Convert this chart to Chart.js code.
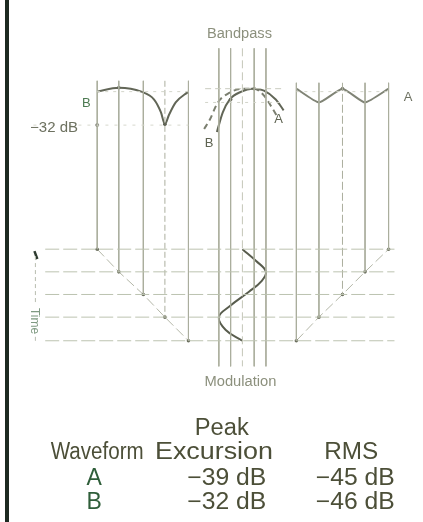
<!DOCTYPE html>
<html>
<head>
<meta charset="utf-8">
<script src="https://cdn.jsdelivr.net/npm/chart.js@4"></script>
<style>
  html, body { margin: 0; padding: 0; background: #fff; }
  #wrap { position: relative; width: 423px; height: 522px; overflow: hidden; }
  #bar { position: absolute; left: 5px; top: 0; width: 4px; height: 522px; background: #1d2a21; }
  canvas { position: absolute; left: 0; top: 0; }
</style>
</head>
<body>
<div id="wrap">
  <canvas id="chart-diagram" width="423" height="522"></canvas>
  <div id="bar"></div>
</div>
<script>
// grid positions (diagram units)
const timeRows = [249, 272, 295, 318, 342];
const leftFreqs = [95, 117, 142, 164, 188];
const midFreqs = [219, 231, 243, 255, 267];
const rightFreqs = [298, 321, 345, 368, 392];

// spectrum of waveform B (left panel)
const specBx = [95, 117, 140, 153, 160, 164, 168, 175, 188];
const specBy = [89, 85, 89, 97, 110, 122, 113, 100, 89];
// spectrum of waveform A (right panel)
const specAy = [86, 100, 86, 100, 86];
// bandpass responses
const bandBx = [217, 223, 230, 242, 253, 265, 277, 285];
const bandBy = [130, 110, 97, 89, 86, 88, 97, 108];
const bandAx = [204, 210, 218, 230, 243, 255, 265, 273, 279];
const bandAy = [127, 117, 100, 90, 86, 86, 93, 105, 115];
// modulation over time
const modX = [243, 257, 267, 262, 250, 230, 219, 226, 243];
const modY = [249, 261, 272, 282, 292, 307, 318, 331, 342];

// table
const tableWaveforms = ['A', 'B'];
const peakExcursion = [-39, -32];
const rmsLevel = [-45, -46];

const gridColor = '#abae9e';
const rowColor = '#bcc3b0';
const curveColor = '#626657';

function pts(xs, ys) { return xs.map((x, i) => ({ x, y: ys[i] })); }

function seg(x1, y1, x2, y2, color, width, dash) {
  return {
    data: [{ x: x1, y: y1 }, { x: x2, y: y2 }],
    showLine: true, borderColor: color, borderWidth: width || 1,
    borderDash: dash || [], pointRadius: 0, clip: false
  };
}

const datasets = [];

// time rows
timeRows.forEach(y => datasets.push(seg(42, y, 398, y, rowColor, 1, [14, 4])));
// level guides
datasets.push(seg(95, 89, 188, 89, '#d3d5ca', 1, [3, 5]));
datasets.push(seg(205, 86, 285, 86, '#c9ccbf', 1, [6, 4]));
datasets.push(seg(205, 100, 285, 100, '#d3d5ca', 1, [3, 5]));
datasets.push(seg(298, 89, 392, 89, '#d3d5ca', 1, [3, 5]));
datasets.push(seg(30, 123, 188, 123, '#d6d8cd', 1, [3, 6]));

// verticals
leftFreqs.forEach((x, i) => datasets.push(seg(x, 78, x, timeRows[i], gridColor, 1, i === 3 ? [6, 3] : [])));
midFreqs.forEach((x, i) => datasets.push(seg(x, 45, x, 368, i === 2 ? '#c4c6b8' : gridColor, 1, i === 2 ? [8, 4] : [])));
rightFreqs.forEach((x, i) => datasets.push(seg(x, 80, x, timeRows[4 - i], gridColor, 1, i === 2 ? [8, 3] : [])));

// diagonals (frequency -> time)
datasets.push({
  data: pts(leftFreqs, timeRows), showLine: true, borderColor: '#b4b7a8', borderWidth: 1,
  borderDash: [10, 4], pointRadius: 1.8, pointBackgroundColor: '#6c705f', pointBorderWidth: 0
});
datasets.push({
  data: pts(rightFreqs, timeRows.slice().reverse()), showLine: true, borderColor: '#b4b7a8', borderWidth: 1,
  borderDash: [10, 4], pointRadius: 1.8, pointBackgroundColor: '#6c705f', pointBorderWidth: 0
});

// time axis
datasets.push(seg(32, 256, 32, 303, '#b8bcaf', 1, [4, 3]));
datasets.push(seg(32, 338, 32, 345, '#b8bcaf', 1, [4, 3]));
datasets.push(seg(31, 251, 34, 259, '#2d3a2f', 2.5));

// spectra and responses
datasets.push({
  data: pts(specBx, specBy), showLine: true, borderColor: curveColor, borderWidth: 2,
  cubicInterpolationMode: 'monotone', pointRadius: 0
});
datasets.push({
  data: pts(rightFreqs, specAy), showLine: true, borderColor: '#808476', borderWidth: 2,
  tension: 0.15, pointRadius: 0
});
datasets.push({
  data: pts(bandBx, bandBy), showLine: true, borderColor: curveColor, borderWidth: 2,
  cubicInterpolationMode: 'monotone', pointRadius: 0
});
datasets.push({
  data: pts(bandAx, bandAy), showLine: true, borderColor: '#7b7f70', borderWidth: 2,
  borderDash: [6, 4], cubicInterpolationMode: 'monotone', pointRadius: 0
});
datasets.push({
  data: pts(modX, modY), showLine: true, borderColor: '#585c4d', borderWidth: 2,
  tension: 0.4, pointRadius: 0
});
// dots on spectrum lines
datasets.push({
  data: [{ x: 164, y: 122 }, { x: 117, y: 85 }, { x: 95, y: 123 }, { x: 231, y: 97 }, { x: 255, y: 86 }, { x: 345, y: 86 }],
  showLine: false, pointRadius: 1.8, pointBackgroundColor: '#4e5244', pointBorderWidth: 0
});

const sans = '"Liberation Sans", Arial';
const labels = [
  { text: 'Bandpass', x: 240, y: 31, font: '14px ' + sans, color: '#8c907d', w: 65 },
  { text: 'Modulation', x: 241, y: 384, font: '14px ' + sans, color: '#8c907d', w: 72 },
  { text: '\u221232 dB', x: 51, y: 126, font: '14px ' + sans, color: '#6d7160', w: 48 },
  { text: 'B', x: 84, y: 101, font: '13px ' + sans, color: '#4d7a52' },
  { text: 'B', x: 209, y: 142, font: '13px ' + sans, color: '#5f6452' },
  { text: 'A', x: 280, y: 117, font: '13px ' + sans, color: '#5f6452' },
  { text: 'A', x: 412, y: 95, font: '13px ' + sans, color: '#6e7262' },
  { text: 'Time', x: 31, y: 322, font: '12px ' + sans, color: '#7f9a82', rotate: Math.PI / 2 }
];

const tableFont = '23px ' + sans;
const ink = '#4c4f38';
const dB = v => '\u2212' + Math.abs(v) + ' dB';
labels.push({ text: 'Peak', x: 222, y: 431, font: tableFont, color: ink, w: 54 });
labels.push({ text: 'Waveform', x: 95, y: 456, font: tableFont, color: ink, w: 93 });
labels.push({ text: 'Excursion', x: 214, y: 456, font: tableFont, color: ink, w: 118 });
labels.push({ text: 'RMS', x: 354, y: 456, font: tableFont, color: ink, w: 54 });
tableWaveforms.forEach((w, i) => {
  const y = 482 + i * 24;
  labels.push({ text: w, x: 92, y, font: tableFont, color: '#2f5e3a' });
  labels.push({ text: dB(peakExcursion[i]), x: 227, y, font: tableFont, color: ink, w: 79 });
  labels.push({ text: dB(rmsLevel[i]), x: 358, y, font: tableFont, color: ink, w: 79 });
});

const textPlugin = {
  id: 'diagramText',
  afterDraw(chart) {
    const { ctx, scales } = chart;
    labels.forEach(l => {
      ctx.save();
      ctx.font = l.font;
      ctx.fillStyle = l.color;
      ctx.textAlign = l.align || 'center';
      ctx.textBaseline = 'middle';
      ctx.translate(scales.x.getPixelForValue(l.x), scales.y.getPixelForValue(l.y));
      if (l.rotate) ctx.rotate(l.rotate);
      if (l.w) ctx.scale(l.w / ctx.measureText(l.text).width, 1);
      ctx.fillText(l.text, 0, 0);
      ctx.restore();
    });
  }
};

new Chart(document.getElementById('chart-diagram').getContext('2d'), {
  type: 'scatter',
  data: { datasets },
  options: {
    responsive: false,
    animation: false,
    layout: { padding: 0 },
    elements: { line: { borderCapStyle: 'butt' } },
    scales: {
      x: { type: 'linear', min: 0, max: 423, display: false },
      y: { type: 'linear', min: 0, max: 522, reverse: true, display: false }
    },
    plugins: { legend: { display: false }, tooltip: { enabled: false } }
  },
  plugins: [textPlugin]
});
</script>
</body>
</html>
